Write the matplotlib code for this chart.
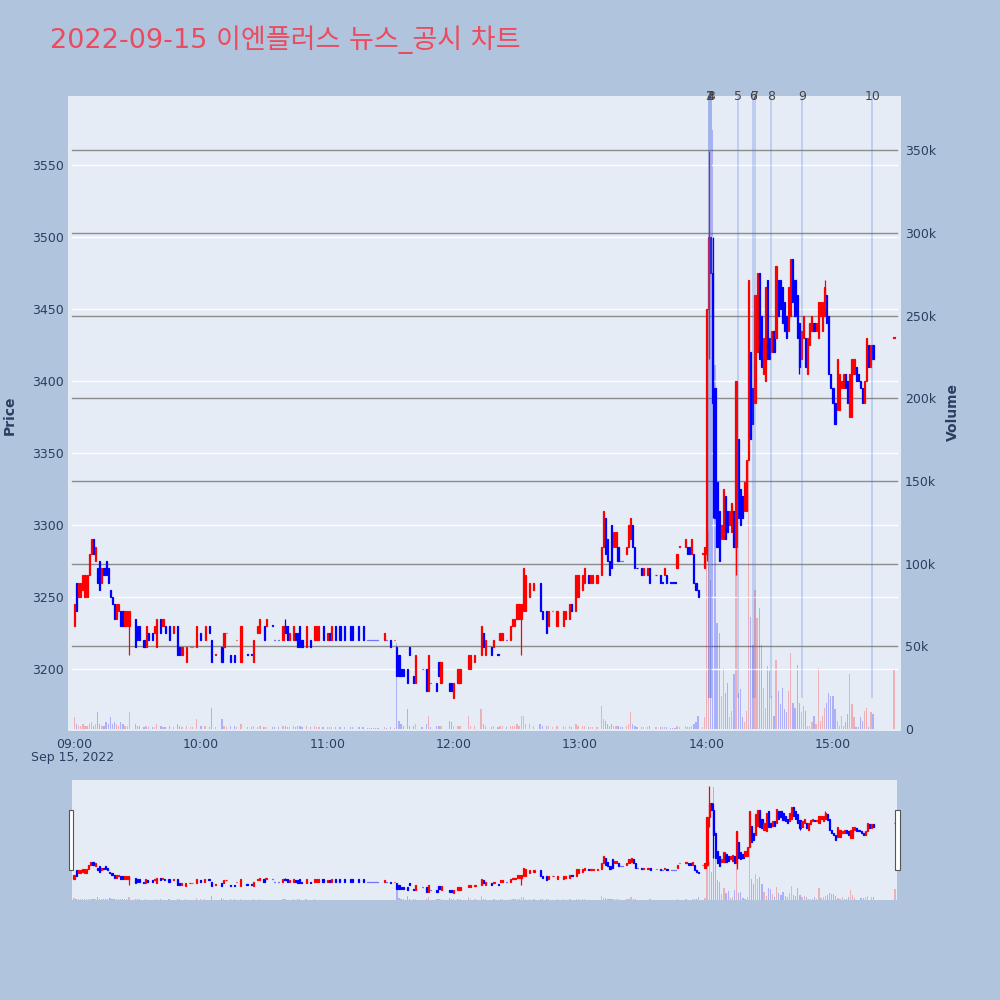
import matplotlib
matplotlib.use('Agg')
import matplotlib.pyplot as plt
from matplotlib.colors import to_rgba
from matplotlib.patches import Rectangle
from matplotlib.transforms import blended_transform_factory

plt.rcParams['font.family'] = ['DejaVu Sans', 'Noto Sans CJK KR']

TITLE = '2022-09-15 이엔플러스 뉴스_공시 차트'

# 1-minute candles, minute offset from 09:00 (only minutes with trades)
minutes = [
    0, 1, 2, 3, 4, 5, 6, 7, 8, 9,
    10, 11, 12, 13, 14, 15, 16, 17, 18, 19,
    20, 21, 22, 23, 24, 25, 26, 29, 30, 31,
    33, 34, 35, 37, 38, 39, 41, 42, 43, 45,
    47, 49, 50, 51, 53, 55, 56, 58,
    60, 62, 64, 65, 67, 70, 71, 72, 74, 76,
    77, 79, 82, 84, 85, 87, 88, 90, 91, 94,
    95, 97, 99, 100, 101, 102, 104, 105, 106, 107,
    108, 110, 112, 114, 115, 116, 118,
    120, 121, 122, 124, 126, 128, 131, 132, 135, 137,
    139, 140, 141, 142, 143, 144, 147, 148, 150, 152,
    153, 154, 155, 156, 158, 159, 161, 162, 165, 167,
    168, 169, 172, 173, 174, 178, 179,
    180, 182, 183, 187, 188, 190, 193, 194, 195, 198,
    199, 201, 202, 203, 205, 207, 208, 209, 210, 211,
    212, 213, 214, 216, 218, 221, 222, 224, 225, 227,
    229, 232, 233, 235, 236, 238, 239,
    241, 242, 244, 245, 246, 248, 250, 251, 252, 253,
    254, 255, 256, 257, 258, 259, 260, 262, 263, 264,
    265, 266, 267, 269, 270, 272, 273, 276, 278, 279,
    280, 281, 283, 284, 285, 286, 287, 290, 291, 292,
    293, 294, 295, 296, 298, 299,
    300, 301, 302, 303, 304, 305, 306, 307, 308, 309,
    310, 311, 312, 313, 314, 315, 316, 317, 318, 319,
    320, 321, 322, 323, 324, 325, 326, 327, 328, 329,
    330, 331, 332, 333, 334, 335, 336, 337, 338, 339,
    340, 341, 342, 343, 344, 345, 346, 347, 348, 349,
    350, 351, 352, 353, 354, 355, 356, 357, 358, 359,
    360, 361, 362, 363, 364, 365, 366, 367, 368, 369,
    370, 371, 372, 373, 374, 375, 376, 377, 378, 379,
    389,
]
opens = [
    3230, 3260, 3250, 3250, 3255, 3250, 3250, 3265, 3280, 3290,
    3275, 3270, 3275, 3260, 3270, 3275, 3270, 3255, 3250, 3245,
    3235, 3240, 3240, 3240, 3230, 3230, 3230, 3235, 3230, 3230,
    3220, 3215, 3225, 3225, 3225, 3215, 3235, 3230, 3230, 3230,
    3225, 3230, 3215, 3210, 3205, 3215, 3215, 3215,
    3225, 3220, 3230, 3220, 3210, 3215, 3215, 3225, 3210, 3210,
    3220, 3205, 3210, 3210, 3205, 3225, 3225, 3230, 3230, 3230,
    3220, 3220, 3220, 3230, 3230, 3220, 3220, 3225, 3225, 3230,
    3220, 3215, 3220, 3220, 3220, 3220, 3230,
    3220, 3225, 3220, 3230, 3230, 3230, 3230, 3230, 3230, 3230,
    3220, 3220, 3220, 3220, 3220, 3220, 3220, 3220, 3220, 3220,
    3215, 3210, 3200, 3200, 3200, 3215, 3195, 3190, 3200, 3200,
    3185, 3190, 3190, 3205, 3190, 3190, 3190,
    3180, 3190, 3190, 3200, 3200, 3205, 3210, 3225, 3210, 3215,
    3215, 3210, 3220, 3220, 3220, 3220, 3230, 3230, 3235, 3235,
    3235, 3240, 3240, 3250, 3255, 3260, 3240, 3240, 3230, 3240,
    3230, 3230, 3235, 3235, 3245, 3240, 3250,
    3255, 3260, 3265, 3260, 3260, 3260, 3265, 3285, 3305, 3290,
    3275, 3300, 3285, 3285, 3285, 3275, 3275, 3280, 3285, 3290,
    3300, 3285, 3270, 3270, 3265, 3265, 3270, 3265, 3265, 3260,
    3265, 3265, 3260, 3260, 3260, 3270, 3285, 3285, 3285, 3285,
    3280, 3280, 3260, 3255, 3280, 3270,
    3280, 3450, 3500, 3475, 3395, 3330, 3310, 3290, 3290, 3320,
    3310, 3300, 3295, 3310, 3285, 3360, 3325, 3320, 3310, 3310,
    3345, 3420, 3395, 3385, 3420, 3475, 3445, 3405, 3400, 3470,
    3430, 3420, 3435, 3430, 3470, 3470, 3465, 3455, 3445, 3435,
    3445, 3485, 3470, 3460, 3440, 3415, 3430, 3430, 3405, 3425,
    3435, 3440, 3435, 3430, 3445, 3435, 3445, 3460, 3445, 3405,
    3395, 3385, 3380, 3380, 3395, 3395, 3405, 3400, 3375, 3375,
    3405, 3410, 3405, 3400, 3395, 3385, 3400, 3425, 3410, 3425,
    3430,
]
closes = [
    3245, 3240, 3260, 3260, 3265, 3265, 3265, 3280, 3290, 3280,
    3285, 3260, 3255, 3270, 3265, 3265, 3260, 3250, 3245, 3235,
    3245, 3245, 3230, 3230, 3240, 3240, 3240, 3215, 3220, 3220,
    3215, 3230, 3220, 3220, 3230, 3235, 3225, 3235, 3225, 3220,
    3230, 3210, 3210, 3215, 3215, 3215, 3215, 3230,
    3220, 3230, 3225, 3205, 3210, 3205, 3225, 3225, 3205, 3205,
    3220, 3230, 3210, 3210, 3220, 3230, 3235, 3220, 3235, 3230,
    3220, 3220, 3230, 3225, 3220, 3225, 3230, 3220, 3215, 3215,
    3215, 3230, 3215, 3230, 3230, 3230, 3220,
    3225, 3220, 3230, 3220, 3220, 3220, 3220, 3220, 3220, 3220,
    3220, 3220, 3220, 3220, 3220, 3220, 3225, 3220, 3215, 3220,
    3195, 3195, 3195, 3195, 3190, 3210, 3190, 3210, 3200, 3185,
    3210, 3190, 3185, 3195, 3205, 3185, 3185,
    3190, 3200, 3200, 3210, 3210, 3210, 3230, 3215, 3220, 3210,
    3220, 3210, 3225, 3225, 3220, 3230, 3235, 3235, 3245, 3245,
    3245, 3270, 3265, 3260, 3260, 3240, 3235, 3225, 3240, 3240,
    3240, 3240, 3240, 3245, 3240, 3265, 3265,
    3265, 3270, 3260, 3265, 3265, 3265, 3285, 3310, 3280, 3275,
    3265, 3270, 3295, 3295, 3275, 3275, 3275, 3285, 3300, 3305,
    3285, 3270, 3270, 3265, 3270, 3270, 3260, 3265, 3260, 3260,
    3270, 3260, 3260, 3260, 3260, 3280, 3285, 3290, 3280, 3280,
    3290, 3260, 3255, 3250, 3280, 3285,
    3450, 3500, 3475, 3385, 3305, 3285, 3275, 3300, 3325, 3290,
    3295, 3310, 3315, 3285, 3400, 3305, 3300, 3305, 3330, 3345,
    3470, 3360, 3370, 3460, 3475, 3415, 3410, 3430, 3465, 3415,
    3415, 3435, 3420, 3480, 3445, 3450, 3440, 3435, 3430, 3465,
    3485, 3455, 3445, 3430, 3410, 3435, 3445, 3410, 3430, 3440,
    3445, 3435, 3440, 3455, 3455, 3455, 3465, 3440, 3405, 3395,
    3385, 3370, 3415, 3405, 3400, 3405, 3395, 3385, 3405, 3415,
    3415, 3400, 3400, 3395, 3385, 3400, 3430, 3410, 3425, 3415,
    3430,
]
# traded volume per minute, thousands of shares
volume_k = [
    7, 3, 2, 2, 3, 2, 2, 3, 4, 2,
    3, 10, 3, 2, 2, 4, 3, 7, 3, 4,
    3, 2, 4, 3, 2, 2, 10, 3, 2, 2,
    1, 2, 1, 1, 1, 3, 2, 1, 1, 2,
    1, 3, 2, 1, 2, 1, 1, 6,
    2, 2, 1, 13, 1, 6, 2, 1, 2, 2,
    1, 3, 1, 1, 2, 1, 2, 1, 1, 1,
    1, 1, 2, 2, 1, 1, 2, 1, 2, 2,
    1, 2, 1, 2, 1, 1, 1,
    1, 1, 1, 1, 1, 1, 1, 1, 1, 1,
    0.5, 0.5, 0.5, 0.5, 0.5, 0.5, 1, 0.5, 1, 0.5,
    52, 5, 3, 2, 12, 2, 2, 3, 1, 3,
    8, 1, 2, 2, 2, 5, 4,
    2, 2, 2, 8, 2, 2, 12, 3, 2, 1,
    2, 1, 2, 2, 1, 2, 2, 2, 3, 2,
    8, 8, 3, 3, 2, 3, 2, 2, 2, 1,
    2, 2, 1, 2, 1, 3, 2,
    2, 2, 1, 1, 1, 1, 14, 6, 5, 3,
    2, 3, 2, 2, 2, 1, 1, 2, 3, 10,
    3, 2, 1, 1, 1, 1, 2, 1, 1, 1,
    1, 1, 0.5, 0.5, 0.5, 2, 1, 2, 1, 1,
    2, 3, 4, 8, 1, 7,
    150, 120, 90, 362, 220, 64, 58, 20, 37, 22,
    28, 7, 11, 33, 210, 22, 24, 7, 4, 11,
    195, 68, 51, 84, 67, 73, 51, 25, 13, 38,
    35, 20, 8, 42, 23, 15, 25, 12, 10, 23,
    46, 16, 13, 39, 16, 10, 14, 11, 2, 2,
    4, 8, 3, 37, 5, 8, 13, 16, 22, 20,
    20, 12, 5, 2, 8, 2, 4, 9, 33, 15,
    7, 1, 1, 7, 5, 11, 13, 1, 10, 9,
    36,
]

# candles whose high / low reach outside the body
wick_minutes = [26, 100, 212, 300, 301, 303, 314, 344, 356]
wick_highs = [3240, 3235, 3245, 3450, 3560, 3500, 3400, 3440, 3470]
wick_lows = [3210, 3225, 3210, 3275, 3415, 3305, 3265, 3405, 3445]

# news / disclosure markers
news_labels = ['1', '2', '3', '4', '5', '6', '7', '8', '9', '10']
news_times = ['14:01:24', '14:01:24', '14:01:54', '14:01:54', '14:14:42',
              '14:22:12', '14:23:12', '14:30:48', '14:45:30', '15:18:42']

tick_labels = ['09:00', '10:00', '11:00', '12:00', '13:00', '14:00', '15:00']

assert len(minutes) == len(opens) == len(closes) == len(volume_k)

####################################################################################################

BG = '#B0C4DE'
PLOT_BG = '#E5ECF6'
UP = '#FF0000'
DOWN = '#0000FF'
TXT = '#2a3f5f'
W = H = 1000


def to_min(t):
    h, m, s = (int(v) for v in t.split(':'))
    return (h - 9) * 60 + m + s / 60


def box(x0, y0, x1, y1):
    return [x0 / W, 1 - y1 / H, (x1 - x0) / W, (y1 - y0) / H]


# plotly colouring: equal open/close takes direction from the previous close
colors = []
prev_c, prev_up = None, True
for o, c in zip(opens, closes):
    if c != o:
        up = c > o
    elif prev_c is not None and c != prev_c:
        up = c > prev_c
    else:
        up = prev_up
    colors.append(UP if up else DOWN)
    prev_c, prev_up = c, up

col_of = dict(zip(minutes, colors))
wick_colors = [col_of[m] for m in wick_minutes]
vol_colors = [to_rgba(c, 0.25) for c in colors]
bottoms = [min(o, c) for o, c in zip(opens, closes)]
heights = [max(abs(c - o), 0.3) for o, c in zip(opens, closes)]
news_x = [to_min(t) for t in news_times]
price_low = min(wick_lows + closes + opens)


def draw_candles(a, width, lw):
    a.bar(minutes, heights, bottom=bottoms, width=width, color=colors,
          edgecolor=colors, linewidth=lw, zorder=3)
    a.vlines(wick_minutes, wick_lows, wick_highs, colors=wick_colors,
             linewidth=0.9, zorder=3)


def twin_pair(rect, xlim, ylim_p, ylim_v):
    a = fig.add_axes(rect)
    av = a.twinx()
    a.set_zorder(2)
    av.set_zorder(1)
    a.patch.set_visible(False)
    av.patch.set_visible(True)
    av.patch.set_facecolor(PLOT_BG)
    a.set_xlim(*xlim)
    a.set_ylim(*ylim_p)
    av.set_ylim(*ylim_v)
    for s in list(a.spines.values()) + list(av.spines.values()):
        s.set_visible(False)
    return a, av


fig = plt.figure(figsize=(10, 10), dpi=100, facecolor=BG)

####################################################################################################
# MAIN CHART
####################################################################################################

ax, axv = twin_pair(box(68, 96, 901, 731), (-3.08, 392.3), (3156.9, 3597.9), (-1.2, 382.8))

gx0, gx1 = 4 / 833, 829 / 833
price_ticks = list(range(3200, 3551, 50))
vol_ticks = list(range(0, 351, 50))
for v in price_ticks:
    ax.axhline(v, xmin=gx0, xmax=gx1, color='white', lw=1.0, zorder=0.5)
for v in vol_ticks[1:]:
    axv.axhline(v, xmin=gx0, xmax=gx1, color='#8c8c8c', lw=1.0, zorder=1)

axv.bar(minutes, volume_k, width=0.6, color=vol_colors, linewidth=0, zorder=2)
draw_candles(ax, 0.55, 0.9)

ax.vlines(news_x, price_low, 3597.9, colors='#4169E1', alpha=0.28, linewidth=1.2, zorder=5)
trans = blended_transform_factory(ax.transData, ax.transAxes)
for x, lab in zip(news_x, news_labels):
    ax.text(x, 1.0, lab, transform=trans, ha='center', va='center', fontsize=9,
            color='#444444', clip_on=False, zorder=6)

ax.set_xticks(range(0, 361, 60))
ax.set_xticklabels(tick_labels)
ax.set_yticks(price_ticks)
ax.tick_params(axis='both', length=0, labelsize=9, labelcolor=TXT)
ax.tick_params(axis='y', pad=3)
ax.tick_params(axis='x', pad=5)
axv.set_yticks(vol_ticks)
axv.set_yticklabels(['0'] + [f'{v}k' for v in vol_ticks[1:]])
axv.tick_params(axis='y', length=0, labelsize=9, labelcolor=TXT, pad=3)

fig.text(73 / W, 1 - 758 / H, 'Sep 15, 2022', ha='center', va='center', fontsize=9, color=TXT)
fig.text(10 / W, 1 - 415 / H, 'Price', rotation=90, ha='center', va='center',
         fontsize=10, fontweight='bold', color=TXT)
fig.text(953 / W, 1 - 412 / H, 'Volume', rotation=90, ha='center', va='center',
         fontsize=10, fontweight='bold', color=TXT)
fig.text(50 / W, 1 - 40 / H, TITLE, ha='left', va='center', fontsize=19.5, color='#EB4B5E')

####################################################################################################
# RANGE SLIDER
####################################################################################################

axs, axsv = twin_pair(box(72, 780, 897, 900), (-0.95, 390.0), (3155, 3582), (0, 383))
axsv.bar(minutes, volume_k, width=0.6, color=vol_colors, linewidth=0, zorder=2)
draw_candles(axs, 0.55, 0.9)
for a in (axs, axsv):
    a.set_xticks([])
    a.set_yticks([])

for hx in (68.5, 895):
    fig.add_artist(Rectangle((hx / W, 1 - 870 / H), 4.5 / W, 60 / H, transform=fig.transFigure,
                             facecolor='white', edgecolor='#555555', linewidth=0.8, zorder=10))

fig.savefig('out.png', dpi=100, facecolor=BG)
